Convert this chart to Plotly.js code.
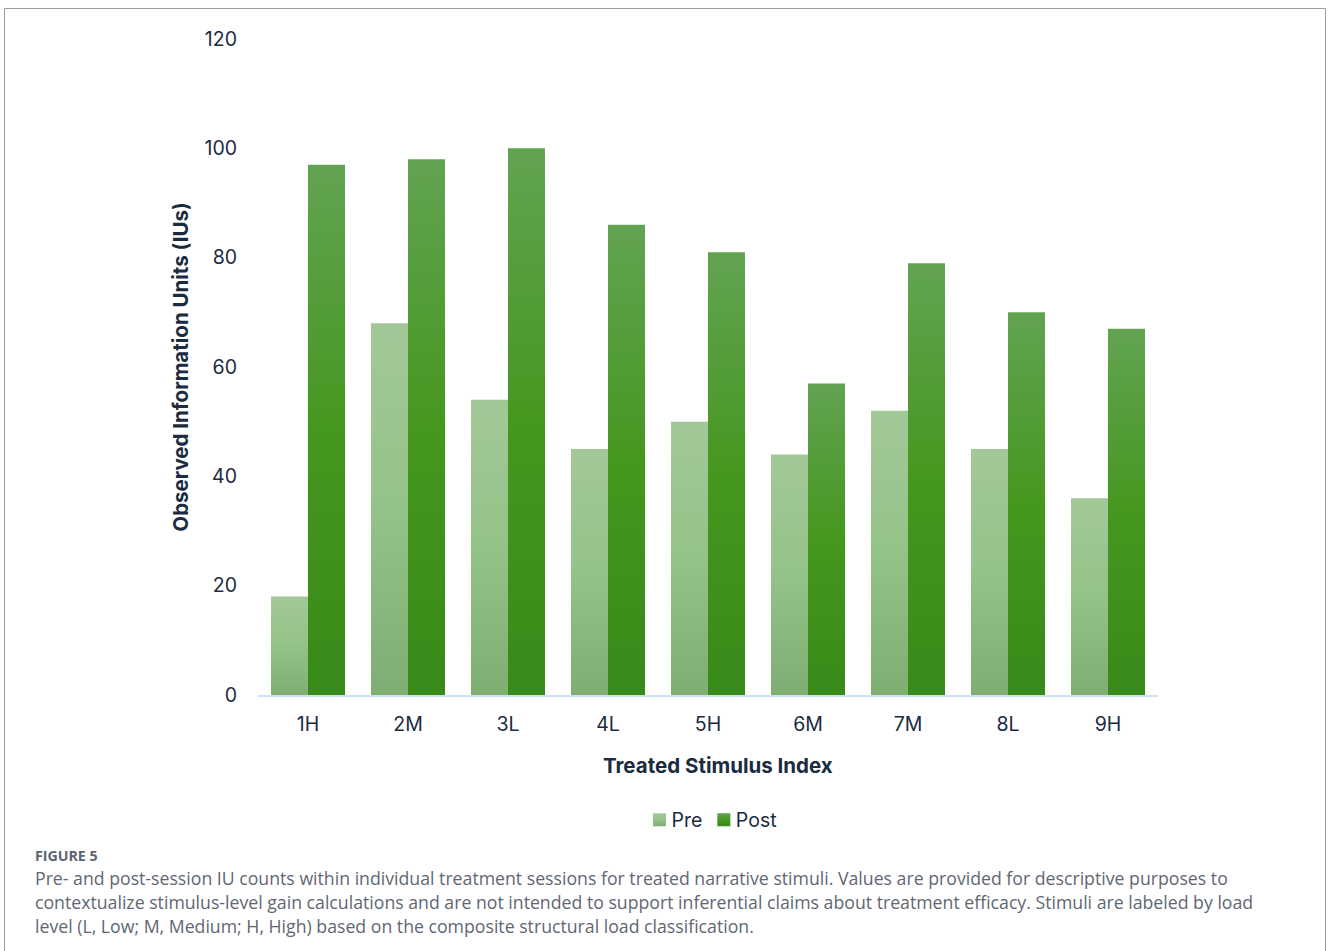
<!DOCTYPE html>
<html>
<head>
<meta charset="utf-8">
<script src="https://cdn.plot.ly/plotly-3.0.1.min.js"></script>
<style>
  html, body { margin: 0; padding: 0; background: #ffffff; }
  #chart { width: 1328px; height: 951px; }
</style>
</head>
<body>
<div id="chart"></div>
<script>
// Treated stimuli, labelled by structural load level
const stimuli = ['1H', '2M', '3L', '4L', '5H', '6M', '7M', '8L', '9H'];

// Information units counted before and after each session
const preIU  = [18, 68, 54, 45, 50, 44, 52, 45, 36];
const postIU = [97, 98, 100, 86, 81, 57, 79, 70, 67];

const yTicks = [0, 20, 40, 60, 80, 100, 120];

const xTitle = 'Treated Stimulus Index';
const yTitle = 'Observed Information Units (IUs)';

const captionHead = 'FIGURE 5';
const captionLines = [
  'Pre- and post-session IU counts within individual treatment sessions for treated narrative stimuli. Values are provided for descriptive purposes to',
  'contextualize stimulus-level gain calculations and are not intended to support inferential claims about treatment efficacy. Stimuli are labeled by load',
  'level (L, Low; M, Medium; H, High) based on the composite structural load classification.'
];

const W = 1328, H = 951;
const M = { l: 258, r: 170, t: 39, b: 256 };
const plotW = W - M.l - M.r, plotH = H - M.t - M.b;
// helpers converting page pixels to paper fractions for caption/border placement
const px = x => (x - M.l) / plotW;
const py = y => (H - M.b - y) / plotH;

const ink = '#1b2b40';
const baseFont = 'Inter, "Noto Sans", sans-serif';
const tickSize = 19.5;
const titleSize = 20.5;

const traces = [
  { type: 'bar', name: 'Pre', x: stimuli, y: preIU, marker: { color: '#93c387' } },
  { type: 'bar', name: 'Post', x: stimuli, y: postIU, marker: { color: '#45961f' } }
];

const annotations = [
  { xref: 'paper', yref: 'paper', x: px(718), y: py(765), xanchor: 'center', yanchor: 'middle',
    text: '<b>' + xTitle + '</b>', showarrow: false,
    font: { family: baseFont, size: titleSize, color: ink } },
  { xref: 'paper', yref: 'paper', x: px(33), y: py(855), xanchor: 'left', yanchor: 'middle',
    text: '<b>' + captionHead + '</b>', showarrow: false,
    font: { family: '"Open Sans", sans-serif', size: 14.2, color: '#5b6471' } }
];
captionLines.forEach((line, i) => {
  annotations.push({
    xref: 'paper', yref: 'paper', x: px(33), y: py(878 + 24 * i), xanchor: 'left', yanchor: 'middle',
    text: line, showarrow: false,
    font: { family: '"Open Sans", sans-serif', size: 17.7, color: '#5f6773' }
  });
});

const layout = {
  width: W, height: H,
  margin: M,
  paper_bgcolor: '#ffffff', plot_bgcolor: '#ffffff',
  font: { family: baseFont, color: ink, size: tickSize },
  barmode: 'group',
  bargap: 0.26, bargroupgap: 0,
  showlegend: true,
  legend: {
    orientation: 'h', x: px(715), xanchor: 'center', y: py(820), yanchor: 'middle',
    font: { family: baseFont, size: tickSize, color: ink }, itemclick: false
  },
  xaxis: {
    type: 'category', showgrid: false, zeroline: false,
    showline: true, linecolor: '#cfe1f3', linewidth: 2,
    ticks: '', tickfont: { family: baseFont, size: tickSize, color: ink },
    ticklabelstandoff: 11
  },
  yaxis: {
    range: [0, 120], tickvals: yTicks, showgrid: false, zeroline: false, showline: false,
    ticks: '', tickfont: { family: baseFont, size: tickSize, color: ink },
    ticklabelstandoff: 20,
    title: { text: '<b>' + yTitle + '</b>', font: { family: baseFont, size: titleSize, color: ink }, standoff: 10 }
  },
  annotations: annotations,
  shapes: [
    { type: 'rect', xref: 'paper', yref: 'paper', layer: 'below',
      x0: px(4.5), x1: px(1325.5), y0: py(960), y1: py(8.5),
      line: { color: '#9a9ca0', width: 1 }, fillcolor: 'rgba(0,0,0,0)' }
  ]
};

// vertical three-stop gradients for the two series
const gradients = [
  { id: 'gradPre',  stops: ['#a3c898', '#94c388', '#7eae72'] },
  { id: 'gradPost', stops: ['#62a352', '#46971f', '#388a19'] }
];

Plotly.newPlot('chart', traces, layout, { displayModeBar: false, staticPlot: true }).then(gd => {
  const NS = 'http://www.w3.org/2000/svg';
  const svg = gd.querySelector('svg.main-svg');
  let defs = svg.querySelector('defs');
  if (!defs) { defs = document.createElementNS(NS, 'defs'); svg.insertBefore(defs, svg.firstChild); }
  gradients.forEach(g => {
    const lg = document.createElementNS(NS, 'linearGradient');
    lg.setAttribute('id', g.id);
    lg.setAttribute('x1', '0'); lg.setAttribute('y1', '0');
    lg.setAttribute('x2', '0'); lg.setAttribute('y2', '1');
    g.stops.forEach((c, i) => {
      const s = document.createElementNS(NS, 'stop');
      s.setAttribute('offset', String(i / (g.stops.length - 1)));
      s.setAttribute('stop-color', c);
      lg.appendChild(s);
    });
    defs.appendChild(lg);
  });
  gd.querySelectorAll('.barlayer .trace.bars').forEach((tr, i) => {
    tr.querySelectorAll('path').forEach(p => { p.style.fill = 'url(#' + gradients[i].id + ')'; });
  });

  // compact legend: 13px swatches, tight text gap, swatch of first item at x=653
  const items = Array.from(gd.querySelectorAll('.legend .traces'));
  let offset = null;
  items.forEach((tr, i) => {
    tr.querySelectorAll('.legendpoints path').forEach(p => {
      p.style.fill = 'url(#' + gradients[i].id + ')';
      p.style.stroke = 'none';
      p.setAttribute('d', 'M6.5,6.5H-6.5V-6.5H6.5Z');
    });
    const txt = tr.querySelector('text.legendtext');
    txt.setAttribute('x', '32');
    const m = /translate\(([-\d.]+)[ ,]*([-\d.]+)?\)/.exec(tr.getAttribute('transform') || '');
    const ty = m && m[2] ? parseFloat(m[2]) : 0;
    if (offset === null) offset = m ? parseFloat(m[1]) : 0;
    tr.setAttribute('transform', 'translate(' + offset + ',' + ty + ')');
    // next swatch starts 15px after this item's text
    offset += 32 + txt.getComputedTextLength() + 15 - 13.5;
  });
  if (items.length) {
    const sw = items[0].querySelector('.legendpoints path').getBoundingClientRect();
    const lgEl = gd.querySelector('g.legend');
    const lm = /translate\(([-\d.]+)[ ,]*([-\d.]+)?\)/.exec(lgEl.getAttribute('transform') || '');
    const lx = lm ? parseFloat(lm[1]) : 0, ly = lm && lm[2] ? parseFloat(lm[2]) : 0;
    lgEl.setAttribute('transform', 'translate(' + (lx + 653 - sw.left) + ',' + ly + ')');
  }
});
</script>
</body>
</html>
